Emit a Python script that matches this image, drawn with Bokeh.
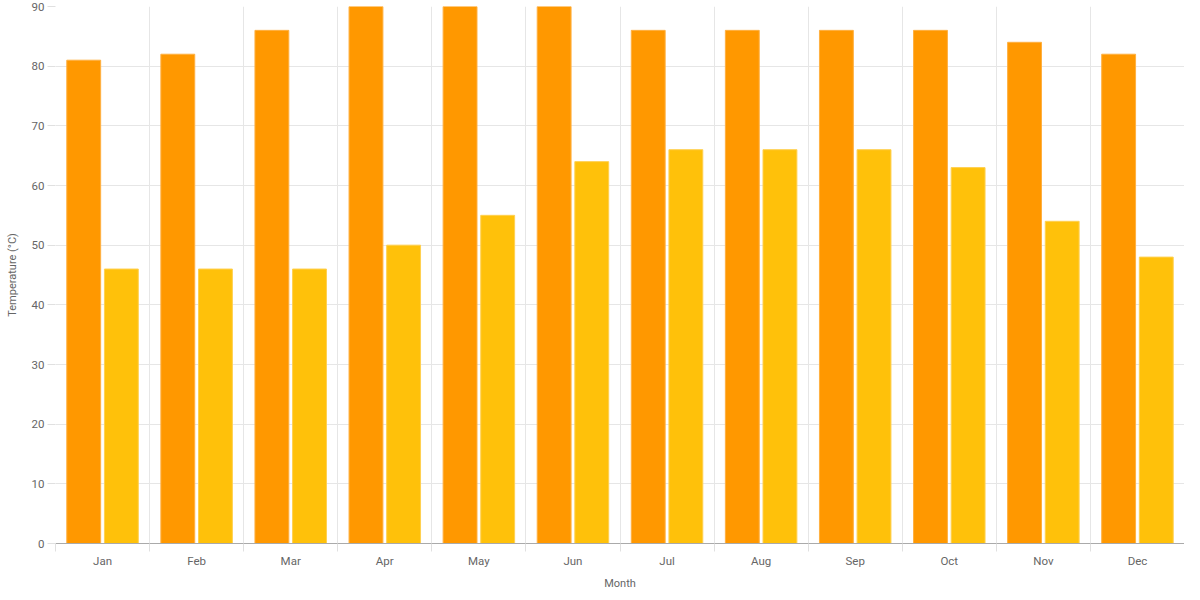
from bokeh.plotting import figure
from bokeh.models import ColumnDataSource, FixedTicker, Range1d
from bokeh.embed import file_html
from bokeh.resources import INLINE

months = ["Jan", "Feb", "Mar", "Apr", "May", "Jun", "Jul", "Aug", "Sep", "Oct", "Nov", "Dec"]
high_temps = [81, 82, 86, 90, 90, 90, 86, 86, 86, 86, 84, 82]
low_temps = [46, 46, 46, 50, 55, 64, 66, 66, 66, 63, 54, 48]
y_ticks = [0, 10, 20, 30, 40, 50, 60, 70, 80, 90]

centers = [i + 0.5 for i in range(len(months))]
bounds = [float(i) for i in range(len(months))]

src = ColumnDataSource(dict(
    hx=[c - 0.2 for c in centers],
    lx=[c + 0.2 for c in centers],
    high=high_temps,
    low=low_temps,
))

FONT = "Roboto"
TXT = "#666666"

p = figure(width=1184, height=592, output_backend="svg", toolbar_location=None,
           x_range=Range1d(0, len(months)), y_range=Range1d(0, 90),
           min_border_left=55, min_border_right=0, min_border_top=6, min_border_bottom=46)
p.outline_line_color = None

p.vbar(x="hx", top="high", width=0.36, source=src,
       fill_color="#FF9800", line_color="#FFB040", line_width=1)
p.vbar(x="lx", top="low", width=0.36, source=src,
       fill_color="#FFC10A", line_color="#FFD050", line_width=1)

# x axis
p.xaxis.ticker = FixedTicker(ticks=centers, minor_ticks=bounds)
p.xaxis.major_label_overrides = {c: m for c, m in zip(centers, months)}
p.xaxis.major_tick_out = 0
p.xaxis.major_tick_in = 0
p.xaxis.minor_tick_out = 8
p.xaxis.minor_tick_in = 0
p.xaxis.minor_tick_line_color = "#e0e0e0"
p.xaxis.axis_line_color = "#aaaaaa"
p.xaxis.axis_label = "Month"

# y axis
p.yaxis.ticker = FixedTicker(ticks=y_ticks)
p.yaxis.axis_line_color = None
p.yaxis.major_tick_out = 8
p.yaxis.major_tick_in = 0
p.yaxis.major_tick_line_color = "#e0e0e0"
p.yaxis.minor_tick_line_color = None
p.yaxis.axis_label = "Temperature (°C)"

for ax in (p.xaxis, p.yaxis):
    ax.major_label_text_font = FONT
    ax.major_label_text_font_size = "11.5px"
    ax.major_label_text_color = TXT
    ax.axis_label_text_font = FONT
    ax.axis_label_text_font_size = "11px"
    ax.axis_label_text_font_style = "normal"
    ax.axis_label_text_color = TXT
p.xaxis.major_label_standoff = 2
p.xaxis.axis_label_standoff = 6
p.yaxis.major_label_standoff = 3
p.yaxis.axis_label_standoff = 10

p.xgrid.ticker = FixedTicker(ticks=bounds)
p.xgrid.grid_line_color = "#e6e6e6"
p.ygrid.ticker = FixedTicker(ticks=y_ticks)
p.ygrid.grid_line_color = "#e6e6e6"

open("out.html", "w").write(file_html(p, INLINE))
